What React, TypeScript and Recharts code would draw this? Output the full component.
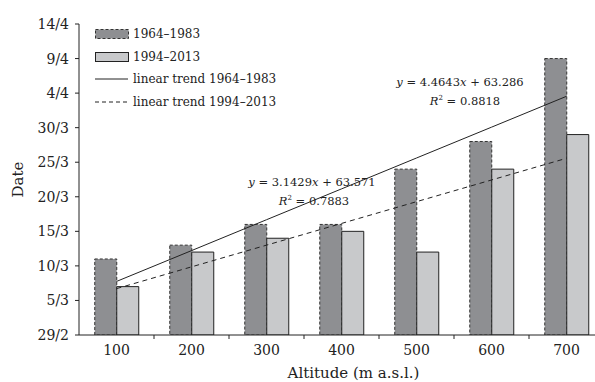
import {Bar, ComposedChart, Customized, Label, Legend, Line, XAxis, YAxis} from 'recharts';

const altitudes = ['100', '200', '300', '400', '500', '600', '700'];
// day of year (leap year: 60 = 29/2)
const period1964 = [71, 73, 76, 76, 84, 88, 100];
const period1994 = [67, 72, 74, 75, 72, 84, 89];
// trend values read from y = 4.4643x + 63.286 and y = 3.1429x + 63.571
const trend1964 = [67.75, 72.21, 76.68, 81.14, 85.61, 90.07, 94.54];
const trend1994 = [66.71, 69.86, 73.0, 76.14, 79.29, 82.43, 85.57];
const dayTicks = [60, 65, 70, 75, 80, 85, 90, 95, 100, 105];
const dayLabels = ['29/2', '5/3', '10/3', '15/3', '20/3', '25/3', '30/3', '4/4', '9/4', '14/4'];

const chartData = altitudes.map((alt, i) => ({
  alt,
  p1964: period1964[i],
  p1994: period1994[i],
  t1964: trend1964[i],
  t1994: trend1994[i],
}));

const font = '"DejaVu Serif", serif';
const darkFill = '#8e8f92';
const lightFill = '#c8c9cb';

function AltTick(props: any) {
  const { x, y, payload, index } = props;
  const axisY = y - 10;
  return (
    <g>
      {index > 0 && (
        <line x1={x - payload.offset} x2={x - payload.offset} y1={axisY} y2={axisY + 4} stroke="#222" />
      )}
      <text x={x} y={y} dy="0.71em" textAnchor="middle" fontFamily={font} fontSize={14} fill="#222">
        {payload.value}
      </text>
    </g>
  );
}

function TrendLegend() {
  const row = { display: 'flex', alignItems: 'center', height: 22.5 } as const;
  const txt = { fontFamily: font, fontSize: 12, color: '#222', marginLeft: 4, whiteSpace: 'nowrap' } as const;
  return (
    <div>
      <div style={row}>
        <svg width={34} height={10}>
          <rect x={0.5} y={0.5} width={33} height={9} fill={darkFill} stroke="#333" strokeDasharray="3 2" />
        </svg>
        <span style={txt}>1964–1983</span>
      </div>
      <div style={row}>
        <svg width={34} height={10}>
          <rect x={0.5} y={0.5} width={33} height={9} fill={lightFill} stroke="#222" />
        </svg>
        <span style={txt}>1994–2013</span>
      </div>
      <div style={row}>
        <svg width={34} height={4}>
          <line x1={0} x2={33} y1={2} y2={2} stroke="#222" />
        </svg>
        <span style={txt}>linear trend 1964–1983</span>
      </div>
      <div style={row}>
        <svg width={34} height={4}>
          <line x1={0} x2={33} y1={2} y2={2} stroke="#222" strokeDasharray="4 3" />
        </svg>
        <span style={txt}>linear trend 1994–2013</span>
      </div>
    </div>
  );
}

function Equations() {
  const t = { fontFamily: font, fontSize: 11.5, fill: '#222', textAnchor: 'middle' } as const;
  return (
    <g>
      <text x={460} y={86} {...t}>
        <tspan fontStyle="italic">y</tspan> = 4.4643<tspan fontStyle="italic">x</tspan> + 63.286
      </text>
      <text x={465} y={105} {...t}>
        <tspan fontStyle="italic">R</tspan>
        <tspan fontSize={7} dy={-5}>2</tspan>
        <tspan dy={5}> = 0.8818</tspan>
      </text>
      <text x={312} y={186} {...t}>
        <tspan fontStyle="italic">y</tspan> = 3.1429<tspan fontStyle="italic">x</tspan> + 63.571
      </text>
      <text x={314} y={205} {...t}>
        <tspan fontStyle="italic">R</tspan>
        <tspan fontSize={7} dy={-5}>2</tspan>
        <tspan dy={5}> = 0.7883</tspan>
      </text>
    </g>
  );
}

export default function App() {
  return (
    <div style={{ position: 'absolute', left: 0, top: 0, width: 595, height: 382, overflow: 'hidden', background: '#fff' }}>
      <ComposedChart
        width={620}
        height={382}
        data={chartData}
        margin={{ top: 24, right: 16, left: 0, bottom: 0 }}
        barCategoryGap="21%"
        barGap={0}
      >
        <XAxis
          dataKey="alt"
          height={47}
          stroke="#222"
          tickLine={false}
          tickSize={4}
          tickMargin={6}
          tick={<AltTick />}
        >
          <Label value="Altitude (m a.s.l.)" position="insideBottom" offset={4} dx={12} fontFamily={font} fontSize={15} fill="#222" />
        </XAxis>
        <YAxis
          width={79}
          domain={[60, 105]}
          ticks={dayTicks}
          tickFormatter={(v: number) => dayLabels[dayTicks.indexOf(v)]}
          stroke="#222"
          tickSize={4}
          tickMargin={6}
          tick={{ fontFamily: font, fontSize: 14, fill: '#222' }}
          allowDataOverflow
        >
          <Label
            value="Date"
            angle={-90}
            position="insideLeft"
            offset={18}
            fontFamily={font}
            fontSize={15}
            fill="#222"
            style={{ textAnchor: 'middle' }}
          />
        </YAxis>
        <Legend
          layout="horizontal"
          verticalAlign="middle"
          align="center"
          content={<TrendLegend />}
          wrapperStyle={{ top: 23, left: 95, width: 'auto' }}
        />
        <Bar dataKey="p1964" fill={darkFill} stroke="#333" strokeDasharray="3 2" isAnimationActive={false} />
        <Bar dataKey="p1994" fill={lightFill} stroke="#222" isAnimationActive={false} />
        <Line dataKey="t1964" type="linear" stroke="#222" strokeWidth={1} dot={false} isAnimationActive={false} />
        <Line dataKey="t1994" type="linear" stroke="#222" strokeWidth={1} strokeDasharray="5 4" dot={false} isAnimationActive={false} />
        <Customized component={Equations} />
      </ComposedChart>
    </div>
  );
}
